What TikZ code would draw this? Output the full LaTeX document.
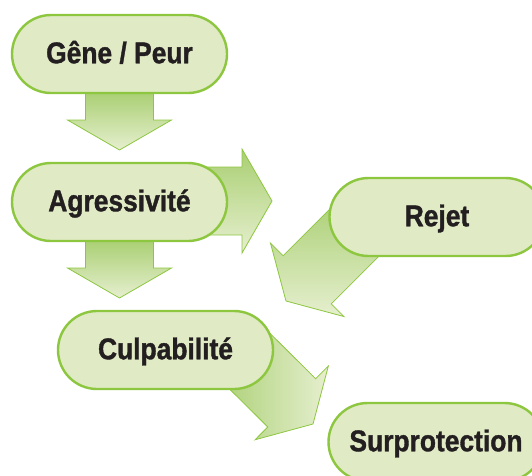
\documentclass[tikz,border=0pt]{standalone}
\usepackage{fontspec}
\newfontfamily\cond[FakeStretch=0.88, BoldFeatures={FakeBold=1.2}]{Liberation Sans}
\usetikzlibrary{calc,backgrounds}
\definecolor{boxfill}{HTML}{E0EAC5}
\definecolor{boxline}{HTML}{8DC63F}
\definecolor{arrdark}{HTML}{A9CF72}
\definecolor{arrlight}{HTML}{E6EFCF}
\definecolor{txt}{HTML}{231F20}
\tikzset{
  stage/.style={draw=boxline, line width=2.4pt, fill=boxfill, rounded corners=39pt,
    minimum width=215pt, minimum height=78pt, inner sep=0pt, text=txt,
    text height=21.5pt, text depth=3pt,
    font=\cond\bfseries\fontsize{30}{30}\selectfont},
  fatarrow/.style={draw=boxline, line width=0.8pt, line join=miter,
    top color=arrdark, bottom color=arrlight}
}
\newcommand\fatarrow[4]{% #1 prefix, #2 start, #3 tip, #4 shading angle
  \coordinate (#1h) at ($(#3)!30pt!(#2)$);
  \draw[fatarrow, shading angle=#4]
    ($(#2)!34pt!90:(#3)$) -- ($(#1h)!34pt!90:(#3)$) -- ($(#1h)!52pt!90:(#3)$)
    -- (#3) -- ($(#1h)!52pt!-90:(#3)$) -- ($(#1h)!34pt!-90:(#3)$)
    -- ($(#2)!34pt!-90:(#3)$) -- cycle;
}
\begin{document}
\begin{tikzpicture}[x=1pt,y=-1pt]
  \clip (0,0) rectangle (532,475);
  \node[stage] (gene)  at (119.5,54)  {Gêne / Peur};
  \node[stage] (agr)   at (119.5,202) {Agressivité};
  \node[stage] (rejet) at (437,217)   {Rejet};
  \node[stage] (culp)  at (165.5,350) {Culpabilité};
  \node[stage] (surp)  at (436,442)   {Surprotection};
  % connector end points
  \coordinate (s1) at ($(gene.south)+(0,-3)$);
  \coordinate (t1) at (119.5,150);
  \coordinate (s2) at ($(agr.south)+(0,-3)$);
  \coordinate (t2) at (119.5,298);
  \coordinate (s3) at (195,201);
  \coordinate (t3) at (272,201);
  \coordinate (s4) at (367,220);
  \coordinate (t4) at (286,301);
  \coordinate (s5) at (236,347.5);
  \coordinate (t5) at (313,424);
  \begin{pgfonlayer}{background}
    \fatarrow{a}{s1}{t1}{0}
    \fatarrow{b}{s2}{t2}{0}
    \fatarrow{c}{s3}{t3}{0}
    \fatarrow{d}{s4}{t4}{0}
    \fatarrow{e}{s5}{t5}{90}
  \end{pgfonlayer}
\end{tikzpicture}
\end{document}
